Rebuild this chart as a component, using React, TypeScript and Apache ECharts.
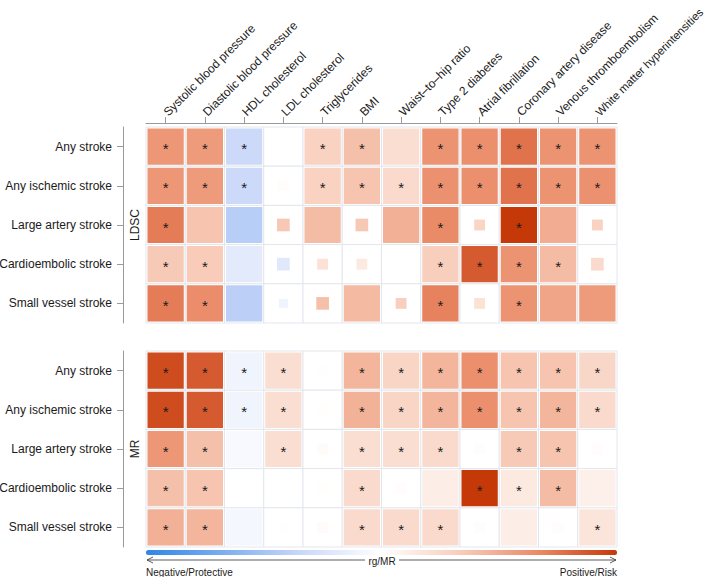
import React, { useEffect, useRef } from "react";
import * as echarts from "echarts";

const traits = [
  "Systolic blood pressure",
  "Diastolic blood pressure",
  "HDL cholesterol",
  "LDL cholesterol",
  "Triglycerides",
  "BMI",
  "Waist\u2013to\u2013hip ratio",
  "Type 2 diabetes",
  "Atrial fibrillation",
  "Coronary artery disease",
  "Venous thromboembolism",
  "White matter hyperintensities",
];

const strokes = [
  "Any stroke",
  "Any ischemic stroke",
  "Large artery stroke",
  "Cardioembolic stroke",
  "Small vessel stroke",
];

const panelNames = ["LDSC", "MR"];

// LDSC genetic correlation (scaled -1..1), rows = strokes, cols = traits
const ldscValues = [
  [0.6, 0.58, -0.33, 0, 0.3, 0.4, 0.22, 0.62, 0.64, 0.76, 0.62, 0.62],
  [0.6, 0.58, -0.33, 0.02, 0.3, 0.38, 0.25, 0.63, 0.64, 0.76, 0.62, 0.63],
  [0.72, 0.38, -0.42, 0.36, 0.42, 0.36, 0.48, 0.66, 0.28, 1.0, 0.5, 0.3],
  [0.35, 0.34, -0.18, -0.2, 0.2, 0.15, 0, 0.33, 0.86, 0.62, 0.42, 0.25],
  [0.72, 0.65, -0.4, -0.1, 0.4, 0.43, 0.32, 0.7, 0.2, 0.62, 0.53, 0.58],
];
const ldscSizes = [
  [1, 1, 1, 1, 1, 1, 1, 1, 1, 1, 1, 1],
  [1, 1, 1, 0.3, 1, 1, 1, 1, 1, 1, 1, 1],
  [1, 1, 1, 0.35, 1, 0.35, 1, 1, 0.3, 1, 1, 0.3],
  [1, 1, 1, 0.35, 0.3, 0.3, 1, 1, 1, 1, 1, 0.35],
  [1, 1, 1, 0.25, 0.35, 1, 0.3, 1, 0.3, 1, 1, 1],
];
const ldscSig = [
  [1, 1, 1, 0, 1, 1, 0, 1, 1, 1, 1, 1],
  [1, 1, 1, 0, 1, 1, 1, 1, 1, 1, 1, 1],
  [1, 0, 0, 0, 0, 0, 0, 1, 0, 1, 0, 0],
  [1, 1, 0, 0, 0, 0, 0, 1, 1, 1, 1, 0],
  [1, 1, 0, 0, 0, 0, 0, 1, 0, 1, 0, 0],
];

// MR causal estimates (scaled -1..1)
const mrValues = [
  [0.92, 0.86, -0.1, 0.22, 0.01, 0.45, 0.28, 0.45, 0.64, 0.38, 0.38, 0.27],
  [0.92, 0.86, -0.1, 0.22, 0.01, 0.47, 0.28, 0.45, 0.64, 0.38, 0.45, 0.25],
  [0.6, 0.4, -0.05, 0.22, 0.03, 0.22, 0.22, 0.25, 0.02, 0.35, 0.38, 0.02],
  [0.4, 0.38, 0, 0, 0.01, 0.25, 0.02, 0.12, 1.0, 0.15, 0.42, 0.1],
  [0.48, 0.45, -0.07, 0.01, 0.03, 0.25, 0.25, 0.25, 0.02, 0.12, 0.02, 0.18],
];
const mrSizes = [
  [1, 1, 1, 1, 0.3, 1, 1, 1, 1, 1, 1, 1],
  [1, 1, 1, 1, 0.3, 1, 1, 1, 1, 1, 1, 1],
  [1, 1, 1, 1, 0.3, 1, 1, 1, 0.3, 1, 1, 0.3],
  [1, 1, 1, 1, 0.3, 1, 0.3, 1, 1, 1, 1, 1],
  [1, 1, 1, 0.3, 0.3, 1, 1, 1, 0.3, 1, 0.3, 1],
];
const mrSig = [
  [1, 1, 1, 1, 0, 1, 1, 1, 1, 1, 1, 1],
  [1, 1, 1, 1, 0, 1, 1, 1, 1, 1, 1, 1],
  [1, 1, 0, 1, 0, 1, 1, 1, 0, 1, 1, 0],
  [1, 1, 0, 0, 0, 1, 0, 0, 1, 1, 1, 0],
  [1, 1, 0, 0, 0, 1, 1, 1, 0, 0, 0, 1],
];

const scaleColors = ["#2f86e6", "#7eaef0", "#cbd9f9", "#ffffff", "#f8cdbb", "#ea8a66", "#c53807"];

const FONT = "Liberation Sans, Arial, Helvetica, sans-serif";

function buildData(values: number[][], sizes: number[][], sig: number[][]) {
  const out: number[][] = [];
  values.forEach((row, r) => {
    row.forEach((v, c) => {
      out.push([c, r, v, sizes[r][c], sig[r][c]]);
    });
  });
  return out;
}

function renderCell(params: any, api: any) {
  const xi = api.value(0);
  const yi = api.value(1);
  const s = api.value(3);
  const sig = api.value(4);
  const c = api.coord([xi, yi]);
  const sz = api.size([1, 1]);
  const w = sz[0];
  const h = sz[1];
  const iw = (w - 3) * s;
  const ih = (h - 3) * s;
  const children: any[] = [
    {
      type: "rect",
      shape: { x: c[0] - w / 2, y: c[1] - h / 2, width: w, height: h },
      style: { fill: "#ffffff", stroke: "#e3e7ed", lineWidth: 1 },
    },
    {
      type: "rect",
      shape: { x: c[0] - iw / 2, y: c[1] - ih / 2, width: iw, height: ih },
      style: { fill: api.visual("color") },
    },
  ];
  if (sig) {
    children.push({
      type: "text",
      x: c[0],
      y: c[1] + 2,
      style: {
        text: "*",
        fill: "#1a1a1a",
        font: `15px ${FONT}`,
        align: "center",
        verticalAlign: "middle",
      },
    });
  }
  return { type: "group", children };
}

export default function App() {
  const ref = useRef<HTMLDivElement>(null);
  useEffect(() => {
    if (!ref.current) return;
    const chart = echarts.init(ref.current, null, { renderer: "svg" });
    const axisLine = { show: true, lineStyle: { color: "#9a9a9a", width: 1 } };
    const yAxisCommon = (gridIndex: number) => ({
      type: "category",
      gridIndex,
      data: strokes,
      inverse: true,
      position: "left",
      offset: 23,
      axisLine,
      axisTick: { show: true, alignWithLabel: true, length: 6, lineStyle: { color: "#9a9a9a" } },
      axisLabel: { fontSize: 12, color: "#1a1a1a", margin: 11, fontFamily: FONT },
      splitLine: { show: false },
    });
    const nameText = (label: string, y: number) => ({
      type: "text",
      x: 135,
      y,
      rotation: Math.PI / 2,
      style: { text: label, font: `12px ${FONT}`, fill: "#1a1a1a", align: "center", verticalAlign: "middle" },
    });
    chart.setOption({
      animation: false,
      textStyle: { fontFamily: FONT },
      grid: [
        { left: 146, top: 127, width: 471, height: 196, outerBoundsMode: "none", containLabel: false },
        { left: 146, top: 351, width: 471, height: 196, outerBoundsMode: "none", containLabel: false },
      ],
      xAxis: [
        {
          type: "category",
          gridIndex: 0,
          data: traits,
          position: "top",
          offset: 4,
          axisLine,
          axisTick: { show: true, alignWithLabel: true, length: 6, lineStyle: { color: "#9a9a9a" } },
          axisLabel: {
            rotate: -45,
            fontSize: 12,
            color: "#1a1a1a",
            margin: 9,
            fontFamily: FONT,
            interval: 0,
            formatter: (v: string, i: number) => (i === traits.length - 1 ? `{n|${v}}` : v),
            rich: { n: { fontSize: 11.4, color: "#1a1a1a", fontFamily: FONT } },
          },
          splitLine: { show: false },
        },
        {
          type: "category",
          gridIndex: 1,
          data: traits,
          show: false,
        },
      ],
      yAxis: [yAxisCommon(0), yAxisCommon(1)],
      visualMap: {
        type: "continuous",
        min: -1,
        max: 1,
        dimension: 2,
        seriesIndex: [0, 1],
        orient: "horizontal",
        left: 146,
        top: 550,
        padding: 0,
        itemWidth: 5,
        itemHeight: 471,
        calculable: false,
        hoverLink: false,
        text: null,
        showLabel: false,
        inRange: { color: scaleColors },
      },
      series: [
        {
          type: "custom",
          xAxisIndex: 0,
          yAxisIndex: 0,
          renderItem: renderCell,
          data: buildData(ldscValues, ldscSizes, ldscSig),
        },
        {
          type: "custom",
          xAxisIndex: 1,
          yAxisIndex: 1,
          renderItem: renderCell,
          data: buildData(mrValues, mrSizes, mrSig),
        },
      ],
      graphic: [
        nameText(panelNames[0], 225),
        nameText(panelNames[1], 449),
        { type: "line", shape: { x1: 147, y1: 560, x2: 365, y2: 560 }, style: { stroke: "#333", lineWidth: 0.8 } },
        { type: "line", shape: { x1: 399, y1: 560, x2: 616, y2: 560 }, style: { stroke: "#333", lineWidth: 0.8 } },
        { type: "polyline", shape: { points: [[153, 557], [147, 560], [153, 563]] }, style: { stroke: "#333", lineWidth: 0.8, fill: null } },
        { type: "polyline", shape: { points: [[610, 557], [616, 560], [610, 563]] }, style: { stroke: "#333", lineWidth: 0.8, fill: null } },
        { type: "text", x: 382, y: 561, style: { text: "rg/MR", font: `10px ${FONT}`, fill: "#1a1a1a", align: "center", verticalAlign: "middle" } },
        { type: "text", x: 146, y: 572, style: { text: "Negative/Protective", font: `10px ${FONT}`, fill: "#1a1a1a", align: "left", verticalAlign: "middle" } },
        { type: "text", x: 617, y: 572, style: { text: "Positive/Risk", font: `10px ${FONT}`, fill: "#1a1a1a", align: "right", verticalAlign: "middle" } },
      ],
    });
    return () => chart.dispose();
  }, []);
  return (
    <div
      ref={ref}
      style={{ position: "fixed", left: 0, top: 0, width: 707, height: 577, background: "#fff" }}
    />
  );
}
